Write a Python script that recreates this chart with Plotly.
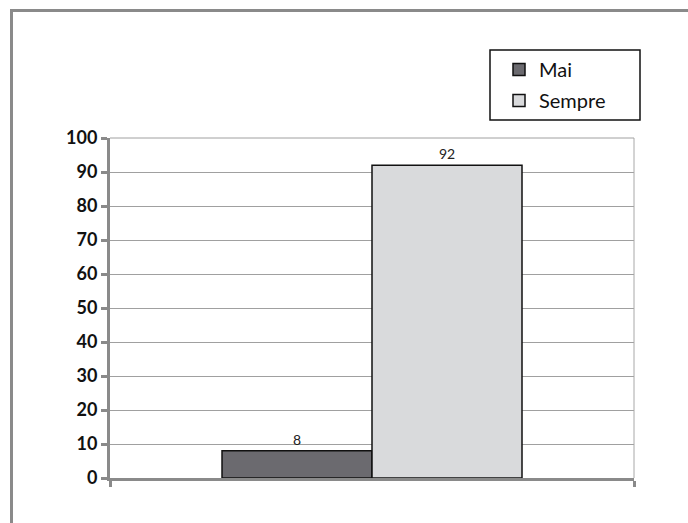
import plotly.graph_objects as go

# Survey answer shares (percent)
categories = [""]
series_names = ["Mai", "Sempre"]
mai_values = [8]
sempre_values = [92]
y_ticks = [0, 10, 20, 30, 40, 50, 60, 70, 80, 90, 100]

W, H = 688, 523
L, R, T, B = 110, 54, 138, 45
pw, ph = W - L - R, H - T - B


def px_x(x):
    return (x - L) / pw


def px_y(y):
    return (H - B - y) / ph


fig = go.Figure()
fig.add_trace(go.Bar(
    name=series_names[0], x=categories, y=mai_values, legendgroup="a",
    marker=dict(color="#6b6a6f", line=dict(color="#111111", width=1.5)),
    text=[str(v) for v in mai_values], textposition="outside",
    textfont=dict(size=14, color="#222222"), cliponaxis=False,
))
fig.add_trace(go.Bar(
    name=series_names[1], x=categories, y=sempre_values, legendgroup="b",
    marker=dict(color="#d9dadc", line=dict(color="#111111", width=1.5)),
    text=[str(v) for v in sempre_values], textposition="outside",
    textfont=dict(size=14, color="#222222"), cliponaxis=False,
))

grey = "#8a8a8a"
shapes = [
    # outer frame: left and top edges only
    dict(type="line", xref="paper", yref="paper",
         x0=px_x(11.5), x1=px_x(11.5), y0=px_y(9), y1=px_y(540),
         line=dict(color=grey, width=3)),
    dict(type="line", xref="paper", yref="paper",
         x0=px_x(10), x1=px_x(700), y0=px_y(10.5), y1=px_y(10.5),
         line=dict(color=grey, width=3)),
    # right and top edges of the plot area
    dict(type="line", xref="paper", yref="paper",
         x0=1, x1=1, y0=0, y1=1, line=dict(color="#a8a8a8", width=1)),
    dict(type="line", xref="paper", yref="paper",
         x0=0, x1=1, y0=1, y1=1, line=dict(color="#a0a0a0", width=1)),
    # legend box
    dict(type="rect", xref="paper", yref="paper",
         x0=px_x(490), x1=px_x(640), y0=px_y(50), y1=px_y(120),
         line=dict(color="#111111", width=1.5), fillcolor="white"),
]

fig.update_layout(
    width=W, height=H,
    margin=dict(l=L, r=R, t=T, b=B),
    paper_bgcolor="white", plot_bgcolor="white",
    font=dict(family="Lato", color="#111111"),
    barmode="group", bargap=0.4275, bargroupgap=0,
    showlegend=True,
    legend=dict(
        x=px_x(499), y=px_y(50), xanchor="left", yanchor="top",
        borderwidth=0, bgcolor="rgba(0,0,0,0)",
        font=dict(size=20, family="Lato", color="#111111"),
        tracegroupgap=2,
    ),
    shapes=shapes,
)
fig.update_xaxes(
    type="category", range=[-0.5, 0.5],
    showticklabels=False, tickson="boundaries",
    ticks="outside", ticklen=6, tickwidth=2.5, tickcolor=grey,
    showline=True, linecolor=grey, linewidth=3,
    showgrid=False, zeroline=False,
)
fig.update_yaxes(
    range=[0, 100], tickvals=y_ticks,
    ticks="outside", ticklen=6, tickwidth=2.5, tickcolor=grey,
    showline=True, linecolor=grey, linewidth=3,
    showgrid=True, gridcolor="#a0a0a0", gridwidth=1, zeroline=False,
    tickfont=dict(size=18, family="Lato", weight="bold", color="#111111"),
)

fig.write_html("out.html")
